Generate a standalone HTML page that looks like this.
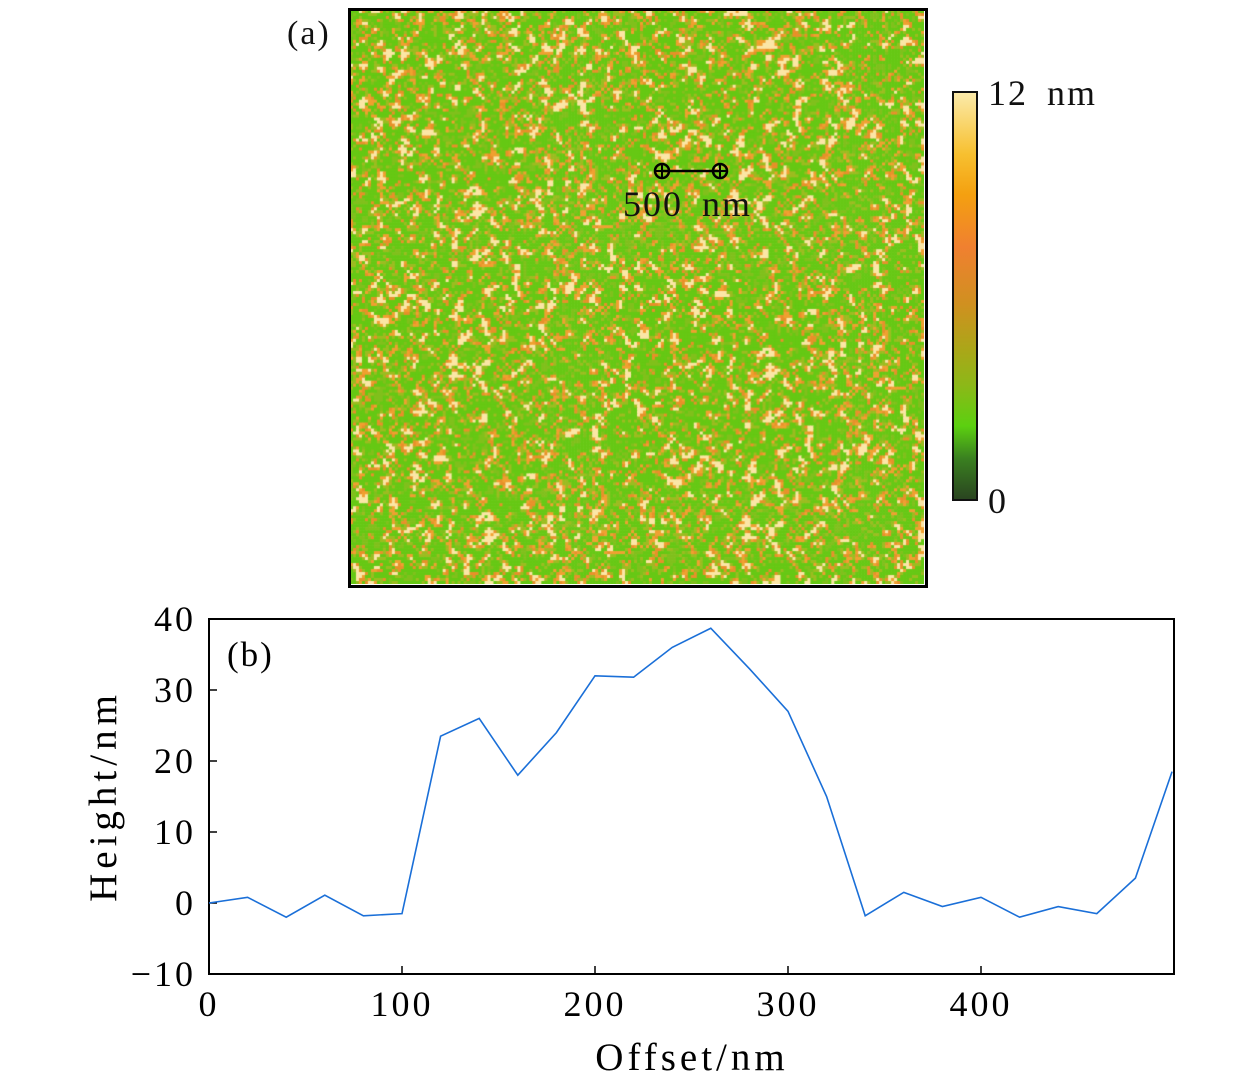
<!DOCTYPE html>
<html><head><meta charset="utf-8"><style>
body{margin:0;background:#fff;width:1260px;height:1087px;overflow:hidden;position:relative;font-family:"Liberation Serif",serif;}
.t{position:absolute;font-size:36px;letter-spacing:2px;word-spacing:8px;color:#111;line-height:1;white-space:nowrap;}
</style></head><body>
<div class="t" style="left:287px;top:17px;font-size:34px;">(a)</div>
<canvas id="afm" width="574" height="574" style="position:absolute;left:350px;top:10px;width:574px;height:574px;"></canvas>
<div style="position:absolute;left:348px;top:8px;width:574px;height:574px;border:3px solid #000;"></div>
<svg style="position:absolute;left:650px;top:160px" width="85" height="24">
<line x1="12" y1="11" x2="70" y2="11" stroke="#000" stroke-width="2.5"/>
<circle cx="12" cy="11" r="7" fill="none" stroke="#000" stroke-width="2.5"/><line x1="5" y1="11" x2="19" y2="11" stroke="#000" stroke-width="2"/><line x1="12" y1="4" x2="12" y2="18" stroke="#000" stroke-width="2"/>
<circle cx="70" cy="11" r="7" fill="none" stroke="#000" stroke-width="2.5"/><line x1="63" y1="11" x2="77" y2="11" stroke="#000" stroke-width="2"/><line x1="70" y1="4" x2="70" y2="18" stroke="#000" stroke-width="2"/>
</svg>
<div class="t" style="left:623px;top:186px;">500 nm</div>
<div style="position:absolute;left:952px;top:91px;width:22px;height:406px;border:2.5px solid #111;background:linear-gradient(to bottom,#fbeaa9 0%,#f7c030 15%,#f4a010 25%,#f08030 38%,#d09020 52%,#a8a818 64%,#8cb818 72%,#5cd010 82%,#3a8020 90%,#2a4520 100%);"></div>
<div class="t" style="left:988px;top:75px;">12 nm</div>
<div class="t" style="left:988px;top:483px;">0</div>
<svg id="chart" width="1260" height="1087" style="position:absolute;left:0;top:0"></svg>
<script>
// AFM texture (decorative)
(function(){
 const c=document.getElementById('afm').getContext('2d');
 let s=12345;function r(){s=(s*1103515245+12345)%2147483648;return s/2147483648;}
 const N=192,px=574/N;const g=[];
 for(let i=0;i<N*N;i++)g.push(r());
 const h=[];
 for(let y=0;y<N;y++)for(let x=0;x<N;x++){let sum=0,n=0;for(let dy=-1;dy<=1;dy++)for(let dx=-1;dx<=1;dx++){const yy=y+dy,xx=x+dx;if(yy>=0&&yy<N&&xx>=0&&xx<N){sum+=g[yy*N+xx];n++;}}h.push(sum/n*0.7+g[y*N+x]*0.3);}
 for(let y=0;y<N;y++)for(let x=0;x<N;x++){const v=h[y*N+x];let col;
  if(v>0.67)col='#fbe6a6';else if(v>0.62)col='#f0a030';else if(v>0.58)col='#e8902a';else if(v>0.52)col='#9cbc20';else if(v>0.3)col='#66c814';else col='#80c01c';
  c.fillStyle=col;c.fillRect(x*px,y*px,px+0.6,px+0.6);}
})();
</script>
<script>
const offsets=[0,20,40,60,80,100,120,140,160,180,200,220,240,260,280,300,320,340,360,380,400,420,440,460,480,499];
const heights=[0,0.8,-2,1.1,-1.8,-1.5,23.5,26,18,24,32,31.8,36,38.7,33,27,15,-1.8,1.5,-0.5,0.8,-2,-0.5,-1.5,3.5,18.5];
const xTicks=[0,100,200,300,400];
const yTicks=[-10,0,10,20,30,40];
const NS='http://www.w3.org/2000/svg';
const svg=document.getElementById('chart');
const X0=209,X1=1174,Y0=974,Y1=619;
const FF='Liberation Serif, serif';
function sx(v){return X0+(v-0)/500*(X1-X0);}
function sy(v){return Y0-(v+10)/50*(Y0-Y1);}
function mk(t,a){const e=document.createElementNS(NS,t);for(const k in a)e.setAttribute(k,a[k]);svg.appendChild(e);return e;}
let fr=mk('rect',{x:X0,y:Y1,width:X1-X0,height:Y0-Y1,fill:'none',stroke:'#000','stroke-width':2});


xTicks.forEach(v=>{
 const l=mk('line',{x1:sx(v),x2:sx(v),y1:Y0,y2:Y0-8,stroke:'#000','stroke-width':1.5});
 
 
 const t=mk('text',{x:sx(v),y:Y0+42,'text-anchor':'middle','font-size':36,'letter-spacing':3,'font-family':FF});
 t.textContent=v;
 
 
});
yTicks.forEach(v=>{
 const l=mk('line',{x1:X0,x2:X0+8,y1:sy(v),y2:sy(v),stroke:'#000','stroke-width':1.5});
 
 
 const t=mk('text',{x:X0-13,y:sy(v)+12,'text-anchor':'end','font-size':36,'letter-spacing':3,'font-family':FF});
 t.textContent=v<0?'\u2212'+(-v):v;
 
 
});
const line=mk('polyline',{points:offsets.map((o,i)=>sx(o)+','+sy(heights[i])).join(' '),fill:'none',stroke:'#1a6fd8','stroke-width':1.6});


const pb=mk('text',{x:227,y:666,'font-size':35,'letter-spacing':2,'font-family':FF});pb.textContent='(b)';


const xl=mk('text',{x:692,y:1070,'text-anchor':'middle','font-size':39,'letter-spacing':4,'font-family':FF});xl.textContent='Offset/nm';


const yl=mk('text',{x:0,y:0,'text-anchor':'middle','font-size':39,'letter-spacing':5,'font-family':FF,transform:'translate(116,796) rotate(-90)'});yl.textContent='Height/nm';


</script>
</body></html>
